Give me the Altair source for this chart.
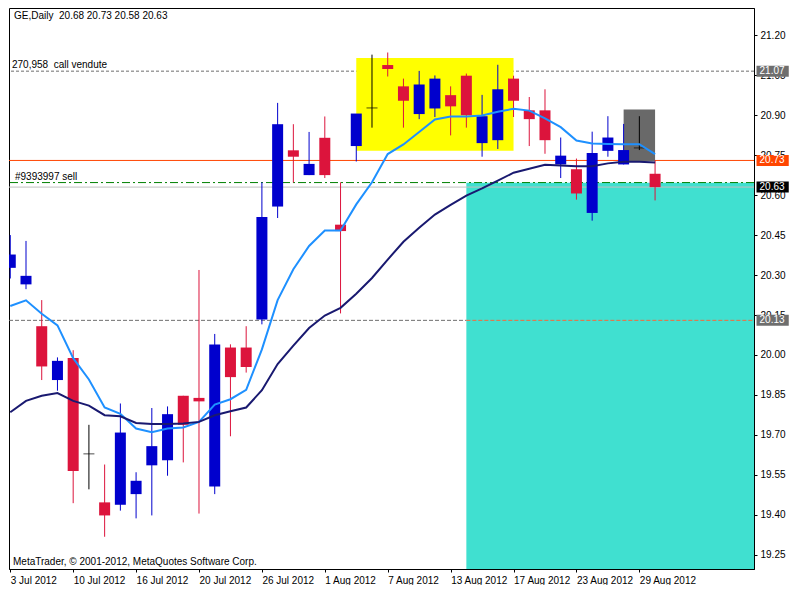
import altair as alt
import pandas as pd

# ---------------- data ----------------
tick_idx = [0, 4, 8, 12, 16, 20, 24, 28, 32, 36, 40]
tick_labels = ["3 Jul 2012", "10 Jul 2012", "16 Jul 2012", "20 Jul 2012", "26 Jul 2012",
               "1 Aug 2012", "7 Aug 2012", "13 Aug 2012", "17 Aug 2012", "23 Aug 2012",
               "29 Aug 2012"]

opens = [20.327, 20.265, 20.108, 19.906, 19.989, 19.629, 19.447, 19.438, 19.478, 19.586,
         19.605, 19.847, 19.839, 19.507, 20.028, 20.028, 20.133, 20.557, 20.768, 20.675,
         20.815, 20.489, 20.784, 20.927, 21.088, 21.008, 20.904, 20.925, 20.975, 21.048,
         20.795, 20.806, 21.037, 20.918, 20.918, 20.715, 20.697, 20.533, 20.766, 20.715,
         20.777, 20.68]
highs = [20.450, 20.428, 20.206, 19.991, 20.018, 19.738, 19.589, 19.818, 19.560, 19.801,
         19.807, 19.847, 20.319, 20.079, 20.040, 20.108, 20.648, 20.946, 20.866, 20.837,
         20.895, 20.648, 20.837, 21.127, 21.135, 21.037, 21.066, 21.049, 21.008, 21.056,
         20.976, 21.089, 21.048, 20.968, 20.997, 20.816, 20.737, 20.838, 20.896, 20.867,
         20.896, 20.73]
lows = [20.287, 20.247, 19.906, 19.866, 19.444, 19.496, 19.318, 19.416, 19.387, 19.398,
        19.547, 19.597, 19.405, 19.478, 19.695, 19.934, 20.115, 20.514, 20.647, 20.675,
        20.664, 20.156, 20.726, 20.853, 21.045, 20.853, 20.885, 20.893, 20.824, 20.853,
        20.744, 20.773, 20.893, 20.784, 20.755, 20.664, 20.583, 20.504, 20.744, 20.715,
        20.769, 20.58]
closes = [20.377, 20.297, 19.957, 19.978, 19.565, 19.629, 19.398, 19.709, 19.528, 19.658,
          19.778, 19.738, 19.826, 20.039, 19.917, 19.955, 20.518, 20.866, 20.744, 20.717,
          20.675, 20.465, 20.906, 20.927, 21.073, 20.954, 21.015, 21.037, 20.933, 20.900,
          20.896, 20.997, 20.954, 20.885, 20.806, 20.748, 20.606, 20.758, 20.816, 20.769,
          20.777, 20.63]

ma_fast = [20.184, 20.205, 20.155, 20.111, 19.988, 19.908, 19.803, 19.779, 19.724, 19.710,
           19.724, 19.728, 19.749, 19.814, 19.834, 19.869, 20.021, 20.206, 20.322, 20.409,
           20.467, 20.467, 20.565, 20.648, 20.754, 20.790, 20.837, 20.884, 20.895, 20.895,
           20.899, 20.913, 20.924, 20.917, 20.888, 20.855, 20.805, 20.794, 20.792, 20.791,
           20.791, 20.754]
ma_slow = [19.785, 19.828, 19.847, 19.857, 19.828, 19.810, 19.774, 19.770, 19.745, 19.741,
           19.741, 19.743, 19.749, 19.774, 19.789, 19.803, 19.868, 19.966, 20.035, 20.101,
           20.148, 20.177, 20.230, 20.289, 20.358, 20.425, 20.477, 20.527, 20.563, 20.598,
           20.625, 20.654, 20.684, 20.699, 20.714, 20.711, 20.708, 20.708, 20.719, 20.725,
           20.725, 20.722]

y_ticks = [21.20, 21.05, 20.90, 20.75, 20.60, 20.45, 20.30, 20.15, 20.00, 19.85, 19.70,
           19.55, 19.40, 19.25]

header_text = "GE,Daily\u00a0 20.68 20.73 20.58 20.63"
copyright_text = "MetaTrader, \u00a9 2001-2012, MetaQuotes Software Corp."

call_price = 21.065
call_label = "270,958\u00a0 call vendute"
sell_price = 20.647
sell_label = "#9393997 sell"
alert_price = 20.73
bid_price = 20.63
level_price = 20.13
level_split = 29

tag_prices = [21.065, 20.73, 20.63, 20.13]
tag_texts = ["21.07", "20.73", "20.63", "20.13"]
tag_colors = ["#6e6e6e", "#FF4500", "#000000", "#6e6e6e"]
tag_x0, tag_x1 = 47.45, 49.5

yellow_box = {"x0": 22, "x1": 32, "y0": 20.766, "y1": 21.114}
gray_box = {"x0": 39, "x1": 41, "y0": 20.727, "y1": 20.921}
cyan_box = {"x0": 29, "y1": 20.646}

x_min, x_max = -0.081, 47.29
y_min, y_max = 19.197, 21.302

FONT = "Liberation Sans"
W, H = 745, 561

# ---------------- tables ----------------
n = len(opens)
candles = pd.DataFrame({"i": list(range(n)), "open": opens, "high": highs,
                        "low": lows, "close": closes})
candles["dir"] = ["up" if c > o else ("down" if c < o else "doji")
                  for o, c in zip(opens, closes)]
ma = pd.DataFrame({"i": list(range(n)), "fast": ma_fast, "slow": ma_slow})

xs = alt.Scale(domain=[x_min, x_max], nice=False, zero=False, padding=0)
ys = alt.Scale(domain=[y_min, y_max], nice=False, zero=False, padding=0)

label_expr = "[" + ",".join("'" + t + "'" for t in tick_labels) + "][round(datum.value/4)]"
xaxis = alt.Axis(values=tick_idx, labelExpr=label_expr, labelAlign="left",
                 labelBaseline="top", labelPadding=3, tickSize=3, tickColor="black",
                 domainColor="black", labelColor="black", labelFont=FONT,
                 labelFontSize=10, grid=False, labelOverlap=False, labelFlush=False)
yaxis = alt.Axis(orient="right", values=y_ticks, format=".2f", tickSize=3,
                 tickColor="black", domainColor="black", labelColor="black",
                 labelFont=FONT, labelFontSize=10, labelPadding=3, grid=False,
                 labelOverlap=False, labelFlush=False)


def X(f):
    return alt.X(f, type="quantitative", scale=xs, axis=xaxis, title=None)


def Y(f):
    return alt.Y(f, type="quantitative", scale=ys, axis=yaxis, title=None)


dir_color = alt.Color("dir:N", scale=alt.Scale(domain=["up", "down", "doji"],
                                               range=["#0000CD", "#DC143C", "#000000"]),
                      legend=None)

# ---------------- layers ----------------
cyan = alt.Chart(pd.DataFrame([{"x0": cyan_box["x0"], "x1": x_max,
                                "y0": y_min, "y1": cyan_box["y1"]}])).mark_rect(
    color="#40E0D0").encode(x=X("x0"), x2="x1", y=Y("y0"), y2="y1")


def hline(price, **kw):
    return alt.Chart(pd.DataFrame({"p": [price]})).mark_rule(**kw).encode(y=Y("p"))


l_call = hline(call_price, color="#6e6e6e", strokeDash=[3, 2], strokeWidth=1)
l_alert = hline(alert_price, color="#FF4500", strokeWidth=1)
l_sell = hline(sell_price, color="#008000", strokeDash=[8, 3, 2, 3], strokeWidth=1)
l_bid = hline(bid_price, color="#C0C0C0", strokeWidth=1)
l_lvl1 = alt.Chart(pd.DataFrame({"p": [level_price], "x0": [x_min], "x1": [level_split]})).mark_rule(
    color="#6e6e6e", strokeDash=[4, 2], strokeWidth=1).encode(x=X("x0"), x2="x1", y=Y("p"))
l_lvl2 = alt.Chart(pd.DataFrame({"p": [level_price], "x0": [level_split], "x1": [x_max]})).mark_rule(
    color="#F5693C", strokeDash=[4, 2], strokeWidth=1).encode(x=X("x0"), x2="x1", y=Y("p"))

yellow = alt.Chart(pd.DataFrame([yellow_box])).mark_rect(color="#FFFF00").encode(
    x=X("x0"), x2="x1", y=Y("y0"), y2="y1")
grayr = alt.Chart(pd.DataFrame([gray_box])).mark_rect(color="#696969").encode(
    x=X("x0"), x2="x1", y=Y("y0"), y2="y1")

base = alt.Chart(candles)
wicks = base.mark_rule(strokeWidth=1, clip=True).encode(
    x=X("i"), y=Y("low"), y2="high", color=dir_color)
bodies = base.transform_filter("datum.dir != 'doji'").mark_bar(size=11, clip=True).encode(
    x=X("i"), y=Y("open"), y2="close", color=dir_color)
dojis = base.transform_filter("datum.dir == 'doji'").mark_tick(
    orient="horizontal", size=11, thickness=1, clip=True).encode(
    x=X("i"), y=Y("open"), color=dir_color)

fast = alt.Chart(ma).mark_line(color="#1E90FF", strokeWidth=2, clip=True).encode(
    x=X("i"), y=Y("fast"))
slow = alt.Chart(ma).mark_line(color="#191970", strokeWidth=2, clip=True).encode(
    x=X("i"), y=Y("slow"))

header = alt.Chart(pd.DataFrame({"t": [header_text]})).mark_text(
    align="left", baseline="alphabetic", font=FONT, fontSize=10, color="black").encode(
    x=alt.value(5), y=alt.value(11), text="t:N")
copyr = alt.Chart(pd.DataFrame({"t": [copyright_text]})).mark_text(
    align="left", baseline="alphabetic", font=FONT, fontSize=10, color="black").encode(
    x=alt.value(4), y=alt.value(H - 4), text="t:N")

line_labels = pd.DataFrame({"p": [call_price, sell_price], "t": [call_label, sell_label],
                            "x": [3, 6]})
lbls = alt.Chart(line_labels).mark_text(
    align="left", baseline="alphabetic", font=FONT, fontSize=10, color="black", dy=-3).encode(
    x=alt.X("x:Q", scale=None, axis=None), y=Y("p"), text="t:N")

tags = pd.DataFrame({"p": tag_prices, "t": tag_texts, "c": tag_colors,
                     "x0": [tag_x0] * 4, "x1": [tag_x1] * 4})
tag_boxes = alt.Chart(tags).mark_bar(orient="horizontal", size=11).encode(
    x=X("x0"), x2="x1", y=Y("p"), color=alt.Color("c:N", scale=None))
tag_text = alt.Chart(tags).mark_text(
    align="left", baseline="middle", font=FONT, fontSize=10, color="white", dx=3).encode(
    x=X("x0"), y=Y("p"), text="t:N")

chart = alt.layer(
    cyan, l_call, l_alert, l_sell, l_bid, l_lvl1, l_lvl2, yellow, grayr,
    wicks, bodies, dojis, fast, slow, header, copyr, lbls, tag_boxes, tag_text
).properties(width=W, height=H, padding=0, background="white").configure_view(
    stroke="black", strokeWidth=1
)

chart.save("out.html", embed_options={"renderer": "svg", "actions": False})
